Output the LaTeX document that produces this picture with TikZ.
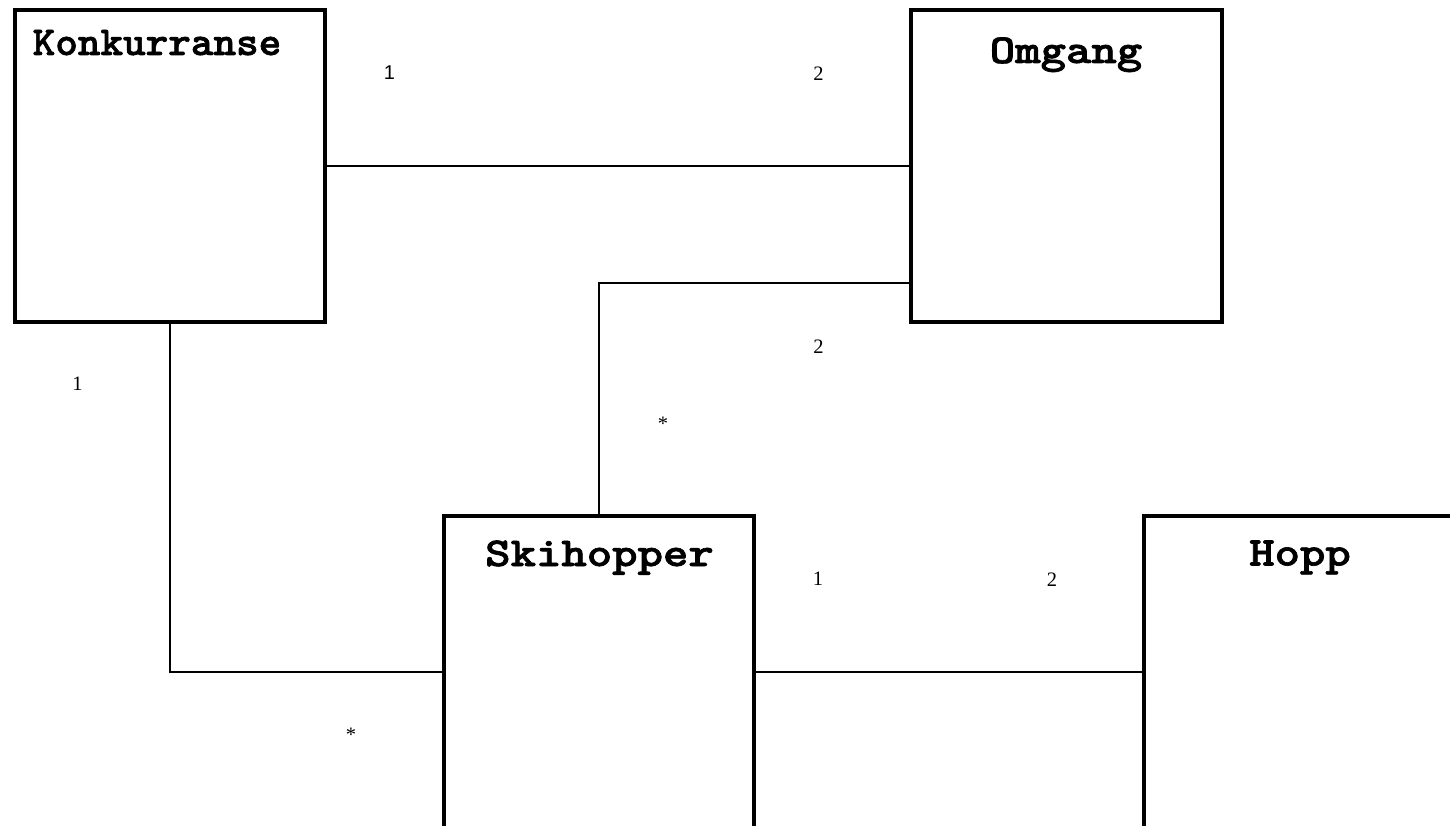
\documentclass[tikz,border=0pt]{standalone}
\usepackage{fontspec}
\setmainfont{Liberation Serif}
\newfontfamily\sansf{Liberation Sans}
\newfontfamily\ttlf{lmmonolt10-bold.otf}[FakeBold=1.6]
\newcommand\ttlfont[2]{\scalebox{#1}[1]{\ttlf\fontsize{41}{41}\selectfont #2}}
\begin{document}
\begin{tikzpicture}[x=1pt,y=-1pt,
  cls/.style={draw=black,line width=4pt,rectangle,inner sep=0pt,outer sep=0pt,fill=white},
  ttl/.style={inner sep=0pt,anchor=base},
  conn/.style={draw=black,line width=1.8pt},
  lbl/.style={inner sep=0pt,anchor=base,font=\fontsize{20.5}{20.5}\selectfont}]
\useasboundingbox (0,0) rectangle (1450,826);
\clip (0,0) rectangle (1450,826);
\fill[white] (0,0) rectangle (1450,826);
% classes
\node[cls,minimum width=310pt,minimum height=311.5pt] (konk) at (169.7,165.75) {};
\node[cls,minimum width=311pt,minimum height=311.5pt] (omg) at (1066.5,165.75) {};
\node[cls,minimum width=310.3pt,minimum height=312pt] (ski) at (598.9,672.3) {};
\node[cls,minimum width=310.3pt,minimum height=312pt] (hopp) at (1299.5,672.3) {};
% titles
\node[ttl] (tkonk) at (157,55) {\ttlfont{1.05}{Konkurranse}};
\node[ttl] (tomg) at (1066,63) {\ttlfont{1.18}{Omgang}};
\node[ttl] (tski) at (599.5,566) {\ttlfont{1.18}{Skihopper}};
\node[ttl] (thopp) at (1300,565.5) {\ttlfont{1.18}{Hopp}};
% connectors
\draw[conn] (konk.east) -- (omg.west);
\draw[conn] ([yshift=-117.5pt]omg.west) -| (ski.north);
\draw[conn] (konk.south) |- (ski.west);
\draw[conn] (ski.east) -- (hopp.west);
% multiplicities
\node[lbl,font=\sansf\fontsize{20}{20}\selectfont] (m1) at (389.5,80) {1};
\node[lbl] (m2) at (818.5,80.7) {2};
\node[lbl] (m3) at (818.5,353.3) {2};
\node[lbl] (m4) at (663,430) {*};
\node[lbl] (m5) at (77.5,390.7) {1};
\node[lbl] (m6) at (351,741.5) {*};
\node[lbl] (m7) at (818,585.7) {1};
\node[lbl] (m8) at (1052,586) {2};
\end{tikzpicture}
\end{document}
